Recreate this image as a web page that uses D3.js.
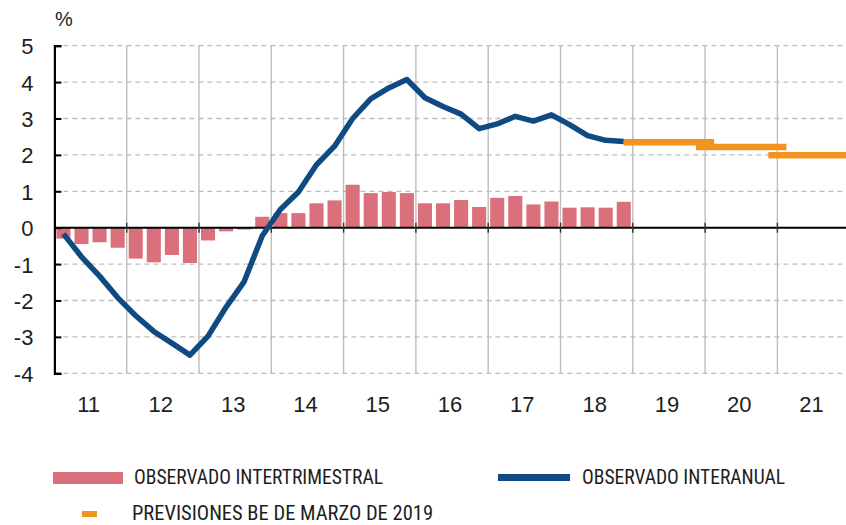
<!DOCTYPE html>
<html>
<head>
<meta charset="utf-8">
<script src="https://cdn.jsdelivr.net/npm/d3@7"></script>
<style>
  body { margin: 0; background: #fff; }
  svg text { fill: #1e1e1e; }
  .tick-lab { font-family: 'Liberation Sans', Arial, sans-serif; font-size: 22px; }
  .legend-lab { font-family: 'Roboto Condensed', 'Open Sans', sans-serif; font-size: 21px; }
</style>
</head>
<body>
<svg id="chart" width="846" height="525"></svg>
<script>
/* quarterly observations, 2011 Q1 to 2018 Q4 */
const obsYears = [2011, 2012, 2013, 2014, 2015, 2016, 2017, 2018]

/* observado intertrimestral (bars), % */
const qoq = [
  -0.3, -0.45, -0.4, -0.55,
  -0.85, -0.95, -0.75, -0.97,
  -0.35, -0.1, -0.05, 0.3,
  0.4, 0.4, 0.67, 0.75,
  1.18, 0.95, 0.98, 0.95,
  0.67, 0.67, 0.76, 0.57,
  0.82, 0.87, 0.64, 0.72,
  0.55, 0.56, 0.55, 0.71
]

/* observado interanual (line), % */
const yoy = [
  -0.17, -0.8, -1.33, -1.92,
  -2.42, -2.85, -3.17, -3.5,
  -2.98, -2.18, -1.48, -0.22,
  0.5, 0.98, 1.73, 2.24,
  3.0, 3.54, 3.84, 4.07,
  3.57, 3.33, 3.12, 2.72,
  2.85, 3.06, 2.93, 3.1,
  2.83, 2.53, 2.4, 2.37
]

/* previsiones BE de marzo de 2019, annual */
const fcYears = [2019, 2020, 2021]
const fcValues = [2.35, 2.22, 1.99]

/* axes */
const yTicks = [5, 4, 3, 2, 1, 0, -1, -2, -3, -4]
const xYears = [2011, 2012, 2013, 2014, 2015, 2016, 2017, 2018, 2019, 2020, 2021]
const xLabels = ['11', '12', '13', '14', '15', '16', '17', '18', '19', '20', '21']

/* colours */
const barCol = '#d9707b'
const lineCol = '#0f4a82'
const fcCol = '#f39321'
const gridCol = '#bdbdbd'

const svg = d3.select('#chart')
const plotW = 846

/* scales */
const x = d3.scaleLinear().domain([2011, 2022]).range([54.4, 849.7])
const y = d3.scaleLinear().domain([-4, 5]).range([373.3, 45.7])

/* build quarterly table */
const quarters = []
obsYears.forEach(function (yr, i) {
  for (let q = 0; q < 4; q++) {
    quarters.push({ t: yr + (q + 0.5) / 4, qoq: qoq[i * 4 + q], yoy: yoy[i * 4 + q] })
  }
})

/* horizontal dashed gridlines */
svg.append('g')
  .selectAll('line')
  .data(yTicks.filter((d) => d !== 0))
  .join('line')
  .attr('x1', x(2011))
  .attr('x2', plotW)
  .attr('y1', (d) => y(d))
  .attr('y2', (d) => y(d))
  .attr('stroke', gridCol)
  .attr('stroke-width', 1.3)
  .attr('stroke-dasharray', '5,4')

/* vertical gridlines at year boundaries */
svg.append('g')
  .selectAll('line')
  .data(xYears.slice(1))
  .join('line')
  .attr('x1', (d) => x(d))
  .attr('x2', (d) => x(d))
  .attr('y1', y(5))
  .attr('y2', y(-4))
  .attr('stroke', gridCol)
  .attr('stroke-width', 1.4)

/* bars */
const barW = x(2011.25) - x(2011) - 4
svg.append('g')
  .selectAll('rect')
  .data(quarters)
  .join('rect')
  .attr('x', (d) => x(d.t) - barW / 2)
  .attr('width', barW)
  .attr('y', (d) => y(Math.max(0, d.qoq)))
  .attr('height', (d) => Math.abs(y(d.qoq) - y(0)))
  .attr('fill', barCol)

/* zero line with small year ticks */
svg.append('line')
  .attr('x1', x(2011))
  .attr('x2', plotW)
  .attr('y1', y(0))
  .attr('y2', y(0))
  .attr('stroke', '#000')
  .attr('stroke-width', 2)

svg.append('g')
  .selectAll('line')
  .data(xYears.slice(1))
  .join('line')
  .attr('x1', (d) => x(d))
  .attr('x2', (d) => x(d))
  .attr('y1', y(0) - 5)
  .attr('y2', y(0) + 5)
  .attr('stroke', '#333')
  .attr('stroke-width', 1.4)

/* y axis with inward ticks */
const yAxis = d3.axisLeft(y)
  .tickValues(yTicks)
  .tickSize(-7)
  .tickPadding(21)
  .tickFormat((d) => String(d))

const gy = svg.append('g')
  .attr('transform', `translate(${x(2011)},0)`)
  .call(yAxis)
gy.select('.domain').attr('stroke', '#000').attr('stroke-width', 2.2)
gy.selectAll('.tick line').attr('stroke', '#000').attr('stroke-width', 2)
gy.selectAll('.tick text')
  .attr('class', 'tick-lab')
  .attr('dy', '0.36em')
  .attr('x', -21)

/* x labels */
svg.append('g')
  .selectAll('text')
  .data(xYears)
  .join('text')
  .attr('class', 'tick-lab')
  .attr('x', (d) => x(d + 0.5) - 2)
  .attr('y', 412)
  .attr('text-anchor', 'middle')
  .text((d, i) => xLabels[i])

/* unit */
svg.append('text')
  .attr('class', 'tick-lab')
  .attr('x', 55)
  .attr('y', 26)
  .style('font-size', '20px')
  .text('%')

/* interanual line */
const line = d3.line()
  .x((d) => x(d.t))
  .y((d) => y(d.yoy))

svg.append('path')
  .datum(quarters)
  .attr('d', line)
  .attr('fill', 'none')
  .attr('stroke', lineCol)
  .attr('stroke-width', 5.5)
  .attr('stroke-linejoin', 'round')

/* forecast segments: from Q4 of previous year to Q1 of next year */
svg.append('g')
  .selectAll('line')
  .data(fcYears)
  .join('line')
  .attr('x1', (d) => x(d - 0.125))
  .attr('x2', (d) => Math.min(plotW, x(d + 1.125)))
  .attr('y1', (d, i) => y(fcValues[i]))
  .attr('y2', (d, i) => y(fcValues[i]))
  .attr('stroke', fcCol)
  .attr('stroke-width', 6.5)

/* legend */
const legend = svg.append('g')

legend.append('rect')
  .attr('x', 53).attr('y', 472).attr('width', 70).attr('height', 12)
  .attr('fill', barCol)
legend.append('text')
  .attr('class', 'legend-lab')
  .attr('x', 134).attr('y', 483.5)
  .attr('textLength', 249).attr('lengthAdjust', 'spacingAndGlyphs')
  .text('OBSERVADO INTERTRIMESTRAL')

legend.append('rect')
  .attr('x', 498).attr('y', 474).attr('width', 72).attr('height', 7)
  .attr('fill', lineCol)
legend.append('text')
  .attr('class', 'legend-lab')
  .attr('x', 582).attr('y', 483.5)
  .attr('textLength', 203).attr('lengthAdjust', 'spacingAndGlyphs')
  .text('OBSERVADO INTERANUAL')

legend.append('rect')
  .attr('x', 82).attr('y', 511).attr('width', 15).attr('height', 6)
  .attr('fill', fcCol)
legend.append('text')
  .attr('class', 'legend-lab')
  .attr('x', 132).attr('y', 520)
  .style('font-size', '20px')
  .attr('textLength', 301).attr('lengthAdjust', 'spacingAndGlyphs')
  .text('PREVISIONES BE  DE MARZO DE 2019')
</script>
</body>
</html>
